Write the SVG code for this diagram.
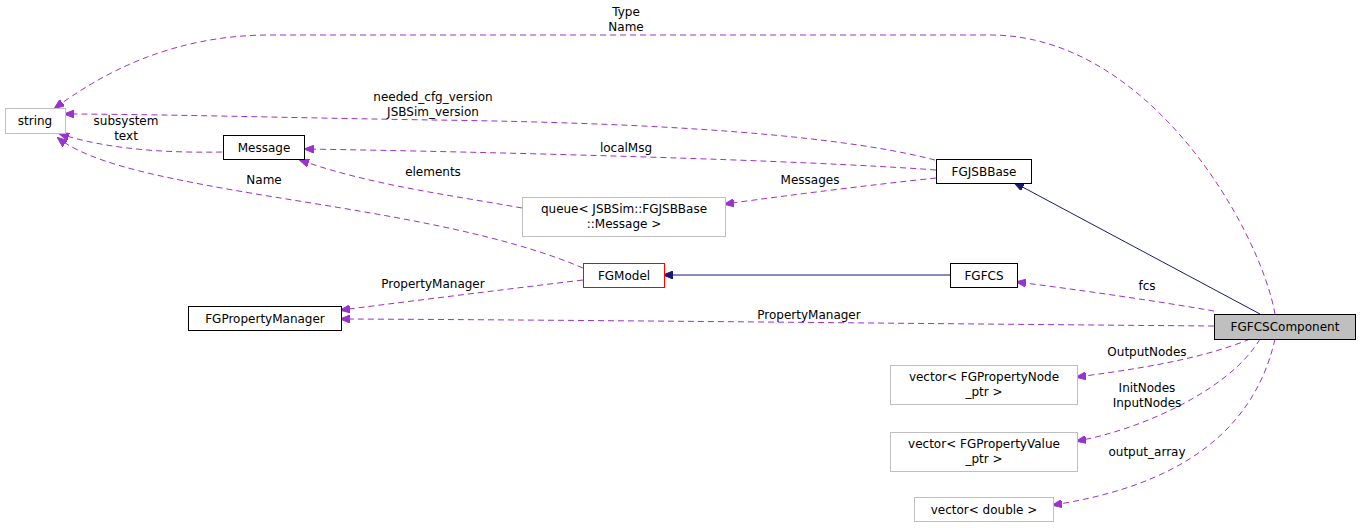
<svg xmlns="http://www.w3.org/2000/svg" width="1360" height="528" viewBox="0 0 1360 528">
<style>
text{font-family:"DejaVu Sans",sans-serif;font-size:12px;text-anchor:middle;fill:#000}
.n{fill:#fff;stroke:#000}
.g{fill:#fff;stroke:#bfbfbf}
.d{fill:none;stroke:#9a32cd;stroke-dasharray:6,4}
.s{fill:none;stroke:#191970}
</style>
<defs>
<marker id="ap" markerWidth="10" markerHeight="8" refX="9" refY="4" orient="auto" markerUnits="userSpaceOnUse"><path d="M0,0L10,4L0,8z" fill="#9a32cd" stroke="#9a32cd"/></marker>
<marker id="an" markerWidth="10" markerHeight="8" refX="9" refY="4" orient="auto" markerUnits="userSpaceOnUse"><path d="M0,0L10,4L0,8z" fill="#191970" stroke="#191970"/></marker>
</defs>
<rect width="1360" height="528" fill="#fff"/>
<g id="connectors">
<path class="d" marker-end="url(#ap)" d="M1275,314C1260,230 1150,35 990,35L270,35C170,35 100,75 55,108"/>
<text x="626" y="16">Type</text><text x="626" y="31">Name</text>
<path class="d" marker-end="url(#ap)" d="M935,160C820,130 600,122 433,120C300,118 150,114 65,114"/>
<text x="433" y="101">needed_cfg_version</text><text x="433" y="116">JSBSim_version</text>
<path class="d" marker-end="url(#ap)" d="M936,170C800,160 500,152 305,149"/>
<text x="626" y="152">localMsg</text>
<path class="d" marker-end="url(#ap)" d="M222,152C170,153 110,150 60,134"/>
<text x="126" y="125">subsystem</text><text x="126" y="140">text</text>
<path class="d" marker-end="url(#ap)" d="M936,178C870,185 790,195 725,204"/>
<text x="810" y="184">Messages</text>
<path class="d" marker-end="url(#ap)" d="M522,208C450,195 370,185 300,160"/>
<text x="433" y="176">elements</text>
<path class="d" marker-end="url(#ap)" d="M583,268C470,220 300,205 180,180C120,168 80,155 58,138"/>
<text x="264" y="184">Name</text>
<path class="d" marker-end="url(#ap)" d="M583,280C500,290 420,300 341,310"/>
<text x="433" y="288">PropertyManager</text>
<path class="s" marker-end="url(#an)" d="M950,275L664,275"/>
<path class="s" marker-end="url(#an)" d="M1260,314L1015,183"/>
<path class="d" marker-end="url(#ap)" d="M1214,311C1150,300 1080,290 1017,282"/>
<text x="1147" y="290">fcs</text>
<path class="d" marker-end="url(#ap)" d="M1214,326C950,324 600,320 341,319"/>
<text x="809" y="319">PropertyManager</text>
<path class="d" marker-end="url(#ap)" d="M1250,339C1200,360 1130,370 1077,377"/>
<text x="1147" y="356">OutputNodes</text>
<path class="d" marker-end="url(#ap)" d="M1260,339C1230,390 1140,430 1077,441"/>
<text x="1147" y="392">InitNodes</text><text x="1147" y="407">InputNodes</text>
<path class="d" marker-end="url(#ap)" d="M1275,339C1250,450 1150,490 1053,505"/>
<text x="1147" y="456">output_array</text>
</g>
<g id="string"><rect class="g" x="5.5" y="108.5" width="60" height="25"/><text x="35" y="125">string</text></g>
<g id="Message"><rect class="n" x="223.5" y="135.5" width="81" height="24"/><text x="264" y="152">Message</text></g>
<g id="FGJSBBase"><rect class="n" x="936.5" y="159.5" width="95" height="24"/><text x="984" y="176">FGJSBBase</text></g>
<g id="queue"><rect class="g" x="522.5" y="197.5" width="203" height="39"/><text x="624" y="213">queue&lt; JSBSim::FGJSBBase</text><text x="624" y="228">::Message &gt;</text></g>
<g id="FGModel"><rect x="583.5" y="263.5" width="81" height="24" fill="#fff" stroke="#ff0000"/><text x="624" y="280">FGModel</text></g>
<g id="FGFCS"><rect class="n" x="950.5" y="263.5" width="67" height="24"/><text x="984" y="280">FGFCS</text></g>
<g id="FGPropertyManager"><rect class="n" x="188.5" y="306.5" width="153" height="24"/><text x="265" y="323">FGPropertyManager</text></g>
<g id="FGFCSComponent"><rect x="1214.5" y="314.5" width="141" height="25" fill="#bfbfbf" stroke="#000"/><text x="1285" y="331">FGFCSComponent</text></g>
<g id="vecNode"><rect class="g" x="890.5" y="365.5" width="187" height="39"/><text x="984" y="381">vector&lt; FGPropertyNode</text><text x="984" y="396">_ptr &gt;</text></g>
<g id="vecValue"><rect class="g" x="890.5" y="432.5" width="187" height="39"/><text x="984" y="448">vector&lt; FGPropertyValue</text><text x="984" y="463">_ptr &gt;</text></g>
<g id="vecDouble"><rect class="g" x="914.5" y="497.5" width="139" height="24"/><text x="984" y="514">vector&lt; double &gt;</text></g>
</svg>
